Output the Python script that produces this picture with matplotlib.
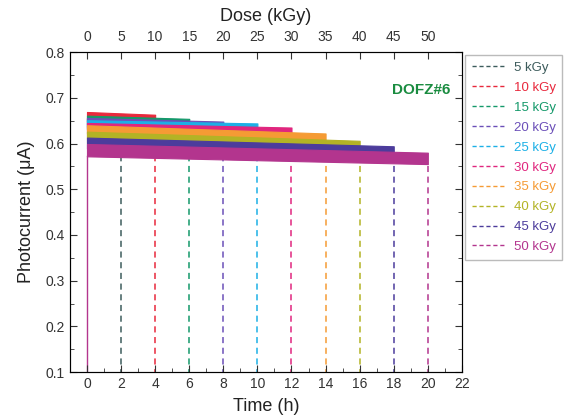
import numpy as np
import matplotlib
matplotlib.use('Agg')
import matplotlib.pyplot as plt
from matplotlib.ticker import MultipleLocator

plt.rcParams['font.family'] = ['Liberation Sans', 'DejaVu Sans']

# dose series, end time of each run and band edges
doses = [5, 10, 15, 20, 25, 30, 35, 40, 45, 50]
t_end = [2, 4, 6, 8, 10, 12, 14, 16, 18, 20]
upper_start = [0.655, 0.669, 0.661, 0.656, 0.651, 0.645, 0.640, 0.626, 0.613, 0.599]
upper_end = [0.654, 0.663, 0.654, 0.648, 0.644, 0.635, 0.622, 0.606, 0.594, 0.580]
lower_start = [0.632, 0.648, 0.642, 0.636, 0.630, 0.622, 0.613, 0.601, 0.589, 0.572]
lower_end = [0.630, 0.640, 0.632, 0.626, 0.620, 0.610, 0.598, 0.584, 0.572, 0.555]
colors = ['#3d5c5c', '#e8283c', '#14996a', '#6b4fb8', '#1cb0e6',
          '#e0267e', '#f59b34', '#b3b325', '#4c3c9c', '#b3358e']

fig = plt.figure(figsize=(5.64, 4.2), dpi=100)
ax = fig.add_axes([0.124, 0.114, 0.695, 0.762])

for i, d in enumerate(doses):
    c = colors[i]
    tt = [0, t_end[i]]
    ax.fill_between(tt, [lower_start[i], lower_end[i]],
                    [upper_start[i], upper_end[i]], color=c, lw=0.8,
                    edgecolor=c, zorder=2 + i)
    ax.plot([t_end[i], t_end[i]], [0.0, lower_end[i]], ls=(0, (4, 3)),
            color=c, lw=1.1, zorder=1)
    ax.plot([], [], ls=(0, (3, 2)), color=c, lw=1.0, label=f'{d} kGy')

ax.plot([0, 0], [0.0, lower_start[-1]], color=colors[-1], lw=1.0, zorder=1)

ax.set_xlim(-1, 22)
ax.set_ylim(0.1, 0.8)
ax.xaxis.set_major_locator(MultipleLocator(2))
ax.xaxis.set_minor_locator(MultipleLocator(1))
ax.yaxis.set_major_locator(MultipleLocator(0.1))
ax.yaxis.set_minor_locator(MultipleLocator(0.05))
ax.tick_params(which='both', direction='in', top=False, right=True,
               labelsize=10, colors='#333333')
ax.tick_params(which='major', length=5)
ax.tick_params(which='minor', length=3)
ax.set_xticks(range(0, 23, 2))
ax.set_xlabel('Time (h)', fontsize=13, color='#222222', labelpad=5)
ax.set_ylabel('Photocurrent (\u03bcA)', fontsize=13, color='#222222',
              labelpad=8)
for s in ax.spines.values():
    s.set_color('#333333')

ax2 = ax.twiny()
ax2.set_xlim(-1 * 2.5, 22 * 2.5)
ax2.set_xticks(range(0, 51, 5))
ax2.tick_params(direction='in', length=5, labelsize=10, colors='#333333',
                pad=6)
ax2.set_xlabel('Dose (kGy)', fontsize=13, color='#222222', labelpad=6)

ax.text(0.97, 0.88, 'DOFZ#6', transform=ax.transAxes, ha='right',
        va='center', fontsize=11, fontweight='bold', color='#1a8c40')

leg = ax.legend(loc='upper left', bbox_to_anchor=(1.008, 0.99),
                fontsize=9.5, frameon=True, fancybox=False,
                handlelength=2.6, handletextpad=0.6, labelspacing=0.58,
                borderaxespad=0, borderpad=0.5)
leg.get_frame().set_edgecolor('#aaaaaa')
for txt, c in zip(leg.get_texts(), colors):
    txt.set_color(c)

fig.savefig('out.png', dpi=100)
